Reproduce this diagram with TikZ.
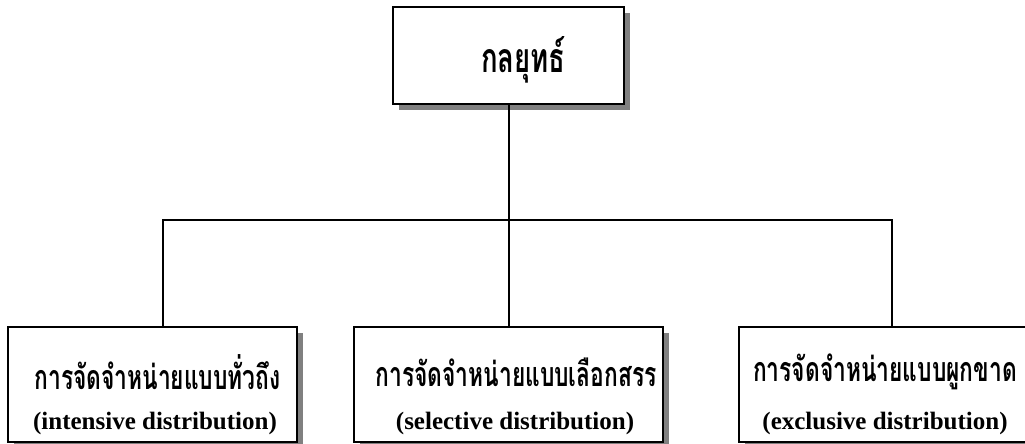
\documentclass[tikz,border=0pt]{standalone}
\usepackage{fontspec}
\newfontfamily\thaifont[Script=Thai,FakeStretch=0.67]{Loma}
\newfontfamily\engfont{Liberation Serif}
\usetikzlibrary{shadows}

\begin{document}
\begin{tikzpicture}[x=1pt,y=-1pt]
        %estilos
        \tikzset{
            caja/.style={draw,line width=2pt,fill=white,inner sep=0pt,
                drop shadow={shadow xshift=6pt,shadow yshift=-6pt,fill=gray,opacity=1}},
            linea/.style={line width=2pt},
            thai/.style={font=\thaifont\bfseries\fontsize{34}{40}\selectfont,inner sep=0pt},
            eng/.style={font=\engfont\bfseries\fontsize{25}{30}\selectfont,inner sep=0pt}
        }
        \clip (0,0) rectangle (1025,444);

        % Conectores
        \coordinate (jl) at (163,220);
        \coordinate (jr) at (892,220);

        % Cajas
        \node[caja,minimum width=231pt,minimum height=97pt] (top) at (508.5,55.5) {};
        \node[caja,minimum width=289pt,minimum height=115pt] (left) at (152.5,384.5) {};
        \node[caja,minimum width=309pt,minimum height=115pt] (mid) at (508.5,384.5) {};
        \node[caja,minimum width=306pt,minimum height=115pt] (right) at (892,384.5) {};

        \draw[linea] (top.south) -- (mid.north);
        \draw[linea] (jl |- left.north) -- (jl) -- (jr) -- (jr |- right.north);

        % Textos
        \node[thai,font=\thaifont\bfseries\fontsize{41}{46}\selectfont] (t0) at (523.5,60) {กลยุทธ์};
        \node[thai] (t1) at (157.5,372) {การจัดจำหน่ายแบบทั่วถึง};
        \node[eng] (e1) at (155,423) {(intensive distribution)};
        \node[thai] (t2) at (516,372) {การจัดจำหน่ายแบบเลือกสรร};
        \node[eng] (e2) at (515,423) {(selective distribution)};
        \node[thai] (t3) at (885,372) {การจัดจำหน่ายแบบผูกขาด};
        \node[eng] (e3) at (885,423) {(exclusive distribution)};
    \end{tikzpicture}
\end{document}
